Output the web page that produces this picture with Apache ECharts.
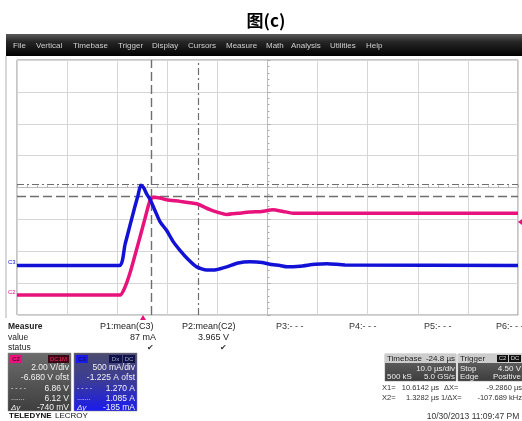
<!DOCTYPE html>
<html><head><meta charset="utf-8">
<script src="https://cdn.jsdelivr.net/npm/echarts@6/dist/echarts.min.js"></script>
<style>html,body{margin:0;padding:0;background:#fff}#c{width:522px;height:421px}</style>
</head><body><div id="c"></div>
<script>
// ---- data ----
const SCREEN_CENTER_US = 24.5;           // time (µs) at the centre graticule line
const timeC3 = [-25.5, -5.08, -3.94, -2.95, -1.95, -1.35, -0.81, -0.25, 0.45, 1.05, 2.04, 3.04, 4.38, 5.64, 7.03, 8.63, 10.37, 12.36, 14.22, 16.36, 18.61, 21.01, 23.40, 25.00, 27.00, 28.39, 30.99, 33.98, 36.38, 39.97, 74.5];
const ampsC3 = [0.00, 0.00, 0.33, 0.63, 0.93, 1.10, 1.26, 1.225, 1.115, 1.04, 0.865, 0.69, 0.55, 0.38, 0.24, 0.10, -0.02, -0.07, -0.064, -0.02, 0.04, 0.06, 0.05, 0.02, 0.00, -0.02, -0.01, 0.02, 0.03, 0.01, 0.00];
const timeC2 = [-25.5, -4.94, -3.94, -2.95, -1.95, -0.95, 0.05, 1.05, 1.71, 3.04, 4.38, 7.03, 10.37, 11.63, 13.02, 14.62, 16.36, 18.61, 21.01, 23.40, 25.60, 27.59, 29.59, 34.98, 74.5];
const voltsC2 = [-0.07, -0.07, 0.43, 1.31, 2.43, 3.57, 4.74, 5.87, 6.07, 6.02, 5.91, 5.81, 5.66, 5.49, 5.29, 5.12, 4.99, 5.06, 5.14, 5.18, 5.29, 5.18, 5.07, 5.06, 5.06];
const cursorTimes = [1.3282, 10.6142];  // X2, X1 (µs)
const cursorVolts = [6.86, 6.12];       // C2 horizontal cursors (V)
const c2Range = [-1.32, 14.68];         // 2.00 V/div, -6.680 V ofst
const c3Range = [-0.775, 3.225];        // 500 mA/div, -1.225 A ofst
const menuItems = ['File','Vertical','Timebase','Trigger','Display','Cursors','Measure','Math','Analysis','Utilities','Help'];
const measureCols = [['P1:mean(C3)','87 mA','✔'],['P2:mean(C2)','3.965 V','✔']];
const emptyCols = ['P3:- - -','P4:- - -','P5:- - -','P6:- - -'];
const c2Box = ['2.00 V/div','-6.680 V ofst','6.86 V','6.12 V','-740 mV'];
const c3Box = ['500 mA/div','-1.225 A ofst','1.270 A','1.085 A','-185 mA'];

// ---- rendering ----
const F = '"Liberation Sans", Arial, sans-serif';
const PINK = '#e8127c', BLUE = '#1212d6';
function T(x, y, text, o) {
  o = o || {};
  const al = o.align || 'left', va = o.va || 'middle';
  return {type:'text', x:x, y:y, silent:true, z:o.z || 100,
    style:{text:text, fill:o.fill || '#222', fontSize:o.size || 9, fontWeight:o.weight || 'normal',
      fontStyle:o.italic ? 'italic' : 'normal', fontFamily:o.family || F,
      align:al, textAlign:al, verticalAlign:va, textVerticalAlign:va}};
}
function R(x, y, w, h, fill, o) {
  o = o || {};
  return {type:'rect', silent:true, z:o.z || 90, shape:{x:x, y:y, width:w, height:h}, style:{fill:fill, stroke:o.stroke || null, lineWidth:o.lw || 0}};
}
const grad = (a, b) => new echarts.graphic.LinearGradient(0, 0, 0, 1, [{offset:0, color:a}, {offset:1, color:b}]);

const g = [];
g.push(T(266, 21, '图(c)', {size:17, weight:'bold', family:'"Noto Sans CJK SC", sans-serif', align:'center', fill:'#000'}));
g.push(R(6, 34, 516, 22, new echarts.graphic.LinearGradient(0,0,0,1,[{offset:0,color:'#5a5a5a'},{offset:0.35,color:'#262626'},{offset:1,color:'#020202'}])));
const menuX = [13, 36, 73, 118, 152, 188, 226, 266, 291, 330, 366];
menuItems.forEach((m, i) => g.push(T(menuX[i], 45.5, m, {fill:'#cfcfcf', size:8})));
g.push({type:'line', silent:true, z:80, shape:{x1:6, y1:56, x2:6, y2:318}, style:{stroke:'#b0b0b0', lineWidth:1}});
// channel markers at left
g.push(T(8, 262, 'C3', {fill:BLUE, size:6}));
g.push(T(8, 292, 'C2', {fill:PINK, size:6}));
// trigger position and level markers
g.push({type:'polygon', silent:true, z:100, shape:{points:[[140,320],[146,320],[143,315]]}, style:{fill:PINK}});
g.push({type:'polygon', silent:true, z:100, shape:{points:[[522,219],[522,225],[518,222]]}, style:{fill:PINK}});
// measurement table
g.push(T(8, 327, 'Measure', {weight:'bold', size:8.5}));
g.push(T(8, 338, 'value', {size:8.5}));
g.push(T(8, 348, 'status', {size:8.5}));
const mx = [[100,156],[182,229]];
measureCols.forEach((c, i) => {
  g.push(T(mx[i][0], 327, c[0], {size:9}));
  g.push(T(mx[i][1], 338, c[1], {size:9, align:'right'}));
  g.push(T(mx[i][1] - 6, 348, c[2], {size:8, align:'center', fill:'#333'}));
});
const ex = [276, 349, 424, 496];
emptyCols.forEach((c, i) => g.push(T(ex[i], 327, c, {size:9, fill:'#333'})));
// channel boxes
function chanBox(x0, vals, bodyGrad, tagColor, tagText, rightTags) {
  g.push(R(x0, 353, 63, 58, bodyGrad, {stroke:'#888', lw:0.5}));
  g.push(R(x0 + 2, 355, 12, 8, tagColor, {z:95}));
  g.push(T(x0 + 8, 359, tagText, {size:6, align:'center', fill:'#111', z:110}));
  rightTags.forEach(t => {
    g.push(R(t.x, 355, t.w, 8, t.bg, {z:95}));
    g.push(T(t.x + t.w / 2, 359, t.text, {size:6, align:'center', fill:t.fg, z:110}));
  });
  const ys = [368, 378, 388.5, 398.5, 408];
  vals.forEach((v, i) => g.push(T(x0 + 61, ys[i], v, {size:8.5, align:'right', fill:'#f2f2f2'})));
  g.push(T(x0 + 3, 388.5, '- - - -', {size:7, fill:'#eee'}));
  g.push(T(x0 + 3, 398.5, '.......', {size:7, fill:'#eee'}));
  g.push(T(x0 + 3, 408, 'Δy', {size:8, italic:true, fill:'#eee'}));
}
chanBox(8, c2Box, grad('#6c6c6c', '#3e3e3e'), PINK, 'C2', [{x:48, w:21, bg:'#3a0816', fg:'#ff2a5a', text:'DC1M'}]);
chanBox(74, c3Box, new echarts.graphic.LinearGradient(0,0,0,1,[{offset:0,color:'#4c4c6e'},{offset:0.5,color:'#3a3a9a'},{offset:1,color:'#1a1af0'}]), '#1a1aee', 'C3', [{x:109, w:13, bg:'#10104a', fg:'#9ab', text:'Dx'},{x:123, w:12, bg:'#10104a', fg:'#9ab', text:'DC'}]);
g.push(T(9, 416, 'TELEDYNE', {weight:'bold', size:8, fill:'#111'}));
g.push(T(55, 416, 'LECROY', {size:8, fill:'#111'}));
// timebase / trigger boxes
g.push(R(385, 354, 71, 27, grad('#6a6a6a', '#3c3c3c'), {stroke:'#777', lw:0.5}));
g.push(R(385, 354, 71, 9, '#cdcdcd', {z:95}));
g.push(T(387, 358.5, 'Timebase', {size:8, fill:'#222'}));
g.push(T(455, 358.5, '-24.8 µs', {size:8, fill:'#222', align:'right'}));
g.push(T(455, 369, '10.0 µs/div', {size:8, fill:'#eee', align:'right'}));
g.push(T(387, 377, '500 kS', {size:8, fill:'#eee'}));
g.push(T(455, 377, '5.0 GS/s', {size:8, fill:'#eee', align:'right'}));
g.push(R(458, 354, 64, 27, grad('#6a6a6a', '#3c3c3c'), {stroke:'#777', lw:0.5}));
g.push(R(458, 354, 64, 9, '#cdcdcd', {z:95}));
g.push(T(460, 358.5, 'Trigger', {size:8, fill:'#222'}));
g.push(R(497, 355, 11, 7, '#111', {z:95}));
g.push(T(502.5, 358.5, 'C2', {size:6, fill:'#ddd', align:'center', z:110}));
g.push(R(509, 355, 12, 7, '#111', {z:95}));
g.push(T(515, 358.5, 'DC', {size:6, fill:'#ddd', align:'center', z:110}));
g.push(T(460, 369, 'Stop', {size:8, fill:'#eee'}));
g.push(T(521, 369, '4.50 V', {size:8, fill:'#eee', align:'right'}));
g.push(T(460, 377, 'Edge', {size:8, fill:'#eee'}));
g.push(T(521, 377, 'Positive', {size:8, fill:'#eee', align:'right'}));
g.push(T(382, 388, 'X1=', {size:7.5, fill:'#333'}));
g.push(T(439, 388, '10.6142 µs', {size:7.5, fill:'#333', align:'right'}));
g.push(T(444, 388, 'ΔX=', {size:7.5, fill:'#333'}));
g.push(T(522, 388, '-9.2860 µs', {size:7.5, fill:'#333', align:'right'}));
g.push(T(382, 398, 'X2=', {size:7.5, fill:'#333'}));
g.push(T(439, 398, '1.3282 µs', {size:7.5, fill:'#333', align:'right'}));
g.push(T(441, 398, '1/ΔX=', {size:7.5, fill:'#333'}));
g.push(T(522, 398, '-107.689 kHz', {size:7.5, fill:'#333', align:'right'}));
g.push(T(473, 417, '10/30/2013 11:09:47 PM', {size:8.5, fill:'#333', align:'center'}));

const toXY = (ts, vs) => ts.map((t, i) => [t - SCREEN_CENTER_US, vs[i]]);
const DASH = [9, 4], DASHDOT = [7, 3, 2, 3];

const chart = echarts.init(document.getElementById('c'), null, {renderer:'canvas'});
chart.setOption({
  animation:false,
  backgroundColor:'#fff',
  grid:{left:17, top:60, width:501, height:255, show:true, borderColor:'#8c8c8c', borderWidth:1, backgroundColor:'#fff'},
  xAxis:{type:'value', min:-50, max:50, interval:10,
    axisLabel:{show:false},
    axisLine:{show:true, onZero:true, onZeroAxisIndex:0, lineStyle:{color:'#bdbdbd', width:1}},
    axisTick:{show:true, length:3, inside:true, lineStyle:{color:'#aaa'}},
    minorTick:{show:true, splitNumber:5, length:2, lineStyle:{color:'#aaa'}},
    splitLine:{show:true, lineStyle:{color:'#d6d6d6', width:1}}},
  yAxis:[
    {type:'value', min:-4, max:4, interval:1, axisLabel:{show:false},
      axisLine:{show:true, onZero:true, lineStyle:{color:'#bdbdbd', width:1}},
      axisTick:{show:true, length:3, inside:true, lineStyle:{color:'#aaa'}},
      minorTick:{show:true, splitNumber:5, length:2, lineStyle:{color:'#aaa'}},
      splitLine:{show:true, lineStyle:{color:'#d6d6d6', width:1}}},
    {type:'value', show:false, min:c2Range[0], max:c2Range[1]},
    {type:'value', show:false, min:c3Range[0], max:c3Range[1]}
  ],
  series:[
    {name:'C2', type:'line', yAxisIndex:1, data:toXY(timeC2, voltsC2), showSymbol:false, symbol:'none', smooth:0.2,
      lineStyle:{color:PINK, width:3.5}, itemStyle:{color:PINK}, z:3,
      markLine:{silent:true, symbol:'none', label:{show:false}, z:2,
        lineStyle:{color:'#6e6e6e', width:1.4},
        data:[
          {xAxis:cursorTimes[0] - SCREEN_CENTER_US, lineStyle:{type:DASH, color:'#6e6e6e', width:1.4}},
          {xAxis:cursorTimes[1] - SCREEN_CENTER_US, lineStyle:{type:DASHDOT, color:'#6e6e6e', width:1.2}},
          {yAxis:cursorVolts[0], lineStyle:{type:DASHDOT, color:'#6e6e6e', width:1.2}},
          {yAxis:cursorVolts[1], lineStyle:{type:DASH, color:'#6e6e6e', width:1.4}}
        ]}},
    {name:'C3', type:'line', yAxisIndex:2, data:toXY(timeC3, ampsC3), showSymbol:false, symbol:'none', smooth:0.2,
      lineStyle:{color:BLUE, width:3.5}, itemStyle:{color:BLUE}, z:4}
  ],
  graphic:{elements:g}
});
</script></body></html>
